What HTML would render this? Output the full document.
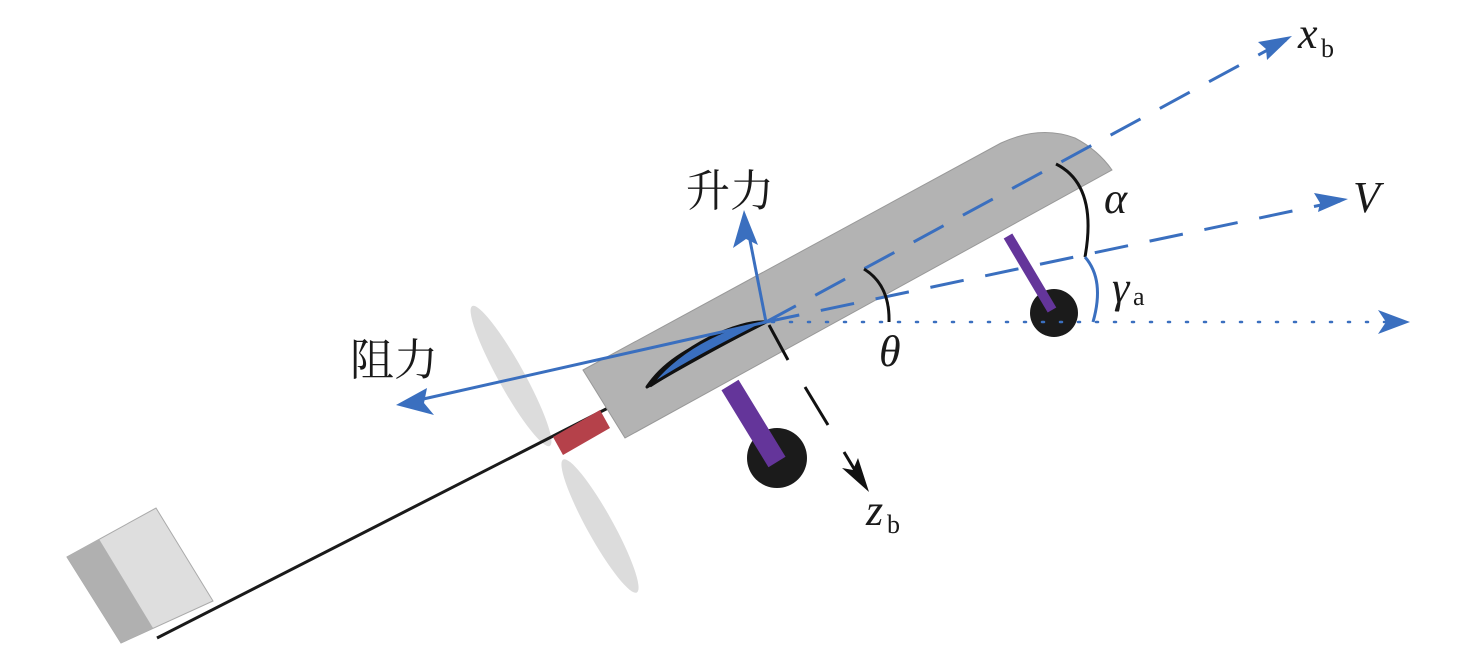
<!DOCTYPE html>
<html><head><meta charset="utf-8"><style>html,body{margin:0;padding:0;background:#fff}svg{display:block}</style></head><body>
<svg width="1476" height="645" viewBox="0 0 1476 645" xmlns="http://www.w3.org/2000/svg">
<!-- propeller -->
<ellipse cx="511" cy="376" rx="13" ry="80" transform="rotate(-29 511 376)" fill="#dcdcdc"/>
<ellipse cx="600" cy="526" rx="13" ry="76" transform="rotate(-29 600 526)" fill="#dcdcdc"/>
<!-- shaft -->
<line x1="157" y1="638" x2="610" y2="407" stroke="#1a1a1a" stroke-width="3"/>
<!-- box -->
<polygon points="67,557 156,508 213,601 121,643" fill="#dedede" stroke="#aaa" stroke-width="1"/>
<polygon points="67,557 99,539 153,628 121,643" fill="#b0b0b0"/>
<!-- red motor -->
<polygon points="553,437 600,410 610,428 563,455" fill="#b5414a"/>
<!-- wing -->
<path d="M583,370 L1001,143 Q1040,125 1075,138 Q1098,150 1112,170 L625,438 Z" fill="#b3b3b3" stroke="#999" stroke-width="1"/>
<!-- front gear -->
<circle cx="777" cy="458" r="30" fill="#1b1b1b"/>
<line x1="730" y1="385" x2="777" y2="462" stroke="#64359a" stroke-width="20"/>
<!-- rear gear -->
<circle cx="1054" cy="313" r="24" fill="#1b1b1b"/>
<line x1="1008" y1="236" x2="1052" y2="310" stroke="#64359a" stroke-width="10"/>
<!-- airfoil -->
<path d="M647,387 Q690,335 766,322 Q720,345 647,387 Z" fill="#3a6fbf" stroke="#111" stroke-width="3" stroke-linejoin="round"/>
<path d="M647,387 Q670,352 730,332 Q755,323 766,322" fill="none" stroke="#111" stroke-width="3"/>
<path d="M650,386 C680,345 740,320 766,322 C735,338 690,360 650,386 Z" fill="#3a6fbf" stroke="#111" stroke-width="3"/>
<!-- dotted horizontal -->
<line x1="772" y1="322" x2="1390" y2="322" stroke="#3a6fbf" stroke-width="2.5" stroke-dasharray="2 16" stroke-linecap="round"/>
<path d="M1410,322 L1378,310 L1386,322 L1378,334 Z" fill="#3a6fbf"/>
<!-- xb dashed -->
<line x1="766" y1="322" x2="1286" y2="40" stroke="#3a6fbf" stroke-width="3" stroke-dasharray="34 22"/>
<path d="M1292,36 L1258,42 L1266,49 L1267,60 Z" fill="#3a6fbf"/>
<!-- V dashed -->
<line x1="766" y1="322" x2="1340" y2="201" stroke="#3a6fbf" stroke-width="3" stroke-dasharray="34 22"/>
<path d="M1348,199 L1314,193 L1320,203 L1318,212 Z" fill="#3a6fbf"/>
<!-- lift -->
<line x1="766" y1="322" x2="747" y2="225" stroke="#3a6fbf" stroke-width="3"/>
<path d="M744,210 L733,248 L746,239 L758,245 Z" fill="#3a6fbf"/>
<!-- drag -->
<line x1="766" y1="322" x2="410" y2="402" stroke="#3a6fbf" stroke-width="3"/>
<path d="M396,405 L434,415 L424,403 L427,388 Z" fill="#3a6fbf"/>
<!-- zb -->
<g stroke="#111" stroke-width="3">
<line x1="769" y1="325" x2="788" y2="360"/>
<line x1="805" y1="387" x2="828" y2="425"/>
<line x1="844" y1="452" x2="862" y2="482"/>
</g>
<path d="M869,492 L842,468 L853,470 L858,458 Z" fill="#111"/>
<!-- arcs -->
<path d="M864,269 Q890,285 889,322" fill="none" stroke="#111" stroke-width="3"/>
<path d="M1056,164 Q1098,185 1085,257" fill="none" stroke="#111" stroke-width="3"/>
<path d="M1085,257 Q1105,280 1093,322" fill="none" stroke="#3a6fbf" stroke-width="3"/>
<!-- labels -->
<g font-family="Liberation Serif, serif" fill="#1a1a1a">
<text x="1298" y="48" font-size="44" font-style="italic">x</text>
<text x="1321" y="57" font-size="26">b</text>
<text x="1353" y="212" font-size="44" font-style="italic">V</text>
<text x="1104" y="213" font-size="44" font-style="italic">α</text>
<text x="1112" y="302" font-size="44" font-style="italic">γ</text>
<text x="1133" y="305" font-size="26">a</text>
<text x="879" y="366" font-size="44" font-style="italic">θ</text>
<text x="866" y="525" font-size="44" font-style="italic">z</text>
<text x="887" y="533" font-size="26">b</text>
</g>
<g font-family="Liberation Serif, 'Noto Serif CJK SC', serif" fill="#1a1a1a" font-size="44">
<text x="686" y="206">升力</text>
<text x="350" y="375">阻力</text>
</g>
</svg>
</body></html>
